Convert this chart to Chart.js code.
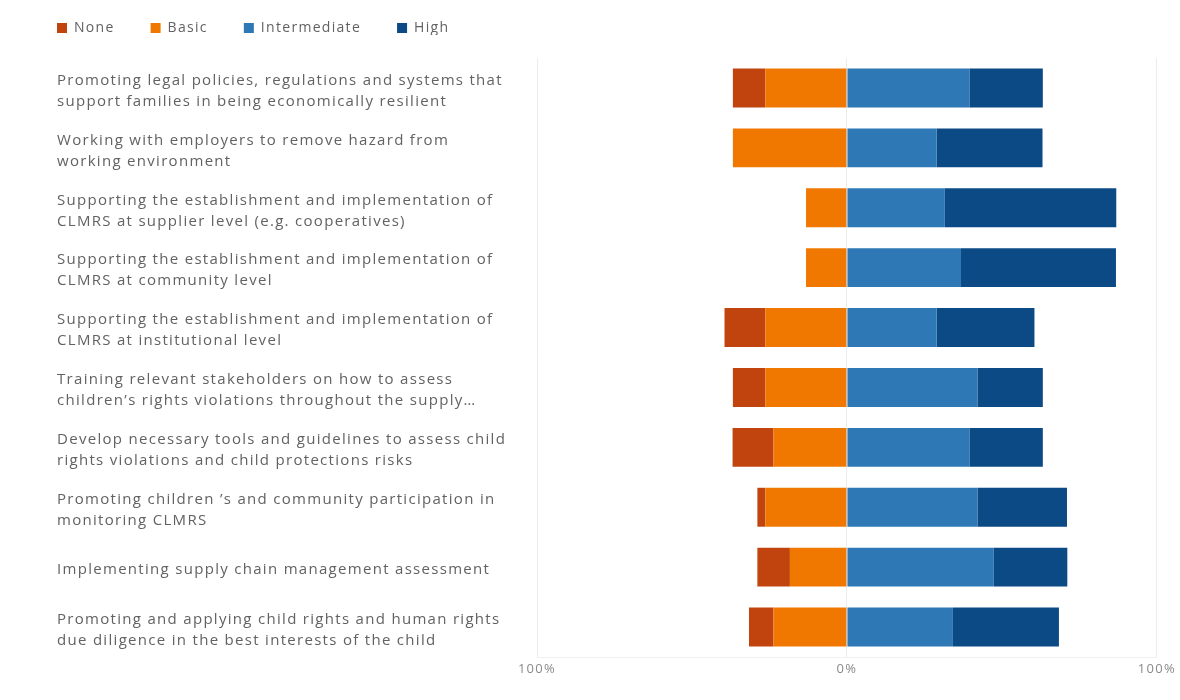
<!DOCTYPE html>
<html>
<head>
<meta charset="utf-8">
<title>Capacity levels by activity</title>
<script src="https://cdn.jsdelivr.net/npm/chart.js@4.4.1/dist/chart.umd.min.js"></script>
<style>
  html, body { margin: 0; padding: 0; background: #ffffff; }
  #wrap { width: 1180px; height: 700px; }
</style>
</head>
<body>
<div id="wrap"><canvas id="chart" width="1180" height="700"></canvas></div>
<script>
// Activities (each entry is wrapped onto the lines shown on the axis)
const categories = [
  ["Promoting legal policies, regulations and systems that", "support families in being economically resilient"],
  ["Working with employers to remove hazard from", "working environment"],
  ["Supporting the establishment and implementation of", "CLMRS at supplier level (e.g. cooperatives)"],
  ["Supporting the establishment and implementation of", "CLMRS at community level"],
  ["Supporting the establishment and implementation of", "CLMRS at institutional level"],
  ["Training relevant stakeholders on how to assess", "children\u2019s rights violations throughout the supply\u2026"],
  ["Develop necessary tools and guidelines to assess child", "rights violations and child protections risks"],
  ["Promoting children \u2019s and community participation in", "monitoring CLMRS"],
  "Implementing supply chain management assessment",
  ["Promoting and applying child rights and human rights", "due diligence in the best interests of the child"]
];

// Share of respondents (%) per capacity level
const noneValues         = [10.5, 0.0, 0.0, 0.0, 13.2, 10.5, 13.2, 2.6, 10.5, 7.9];
const basicValues        = [26.3, 36.8, 13.2, 13.2, 26.3, 26.3, 23.7, 26.3, 18.4, 23.7];
const intermediateValues = [39.5, 28.9, 31.6, 36.8, 28.9, 42.1, 39.5, 42.1, 47.4, 34.2];
const highValues         = [23.7, 34.2, 55.3, 50.0, 31.6, 21.1, 23.7, 28.9, 23.7, 34.2];

// Axis ticks (left side shows the magnitude of the negative half)
const tickValues = [-100, 0, 100];
const legendOrder = ["None", "Basic", "Intermediate", "High"];

const COLORS = {
  None: "#c1440e",
  Basic: "#f07800",
  Intermediate: "#2e78b5",
  High: "#0c4a86"
};

const TEXT = "#626262";
const FONT = "'Open Sans', 'Noto Sans', sans-serif";

// Low levels go to the left of zero; Basic sits next to the axis, None outside it.
const datasets = [
  { label: "Basic", data: basicValues.map(v => -v), backgroundColor: COLORS.Basic },
  { label: "None", data: noneValues.map(v => -v), backgroundColor: COLORS.None },
  { label: "Intermediate", data: intermediateValues, backgroundColor: COLORS.Intermediate },
  { label: "High", data: highValues, backgroundColor: COLORS.High }
];

// Wide, airy lettering for every text on the canvas
const textSpacing = {
  id: "textSpacing",
  beforeUpdate(chart) { chart.ctx.letterSpacing = "1.3px"; },
  beforeDraw(chart) { chart.ctx.letterSpacing = "1.3px"; }
};

// Moves the legend into the top-left corner above the label column
const legendPlacement = {
  id: "legendPlacement",
  afterLayout(chart) {
    const lg = chart.legend;
    if (!lg) return;
    const dx = -36, dy = -23;
    lg.left += dx; lg.right += dx;
    lg.top += dy; lg.bottom += dy;
  }
};

new Chart(document.getElementById("chart"), {
  type: "bar",
  data: { labels: categories, datasets },
  plugins: [textSpacing, legendPlacement],
  options: {
    responsive: false,
    devicePixelRatio: 1,
    animation: false,
    indexAxis: "y",
    layout: { padding: { left: 57, top: 8, right: 23, bottom: 0 } },
    datasets: { bar: { categoryPercentage: 0.65, barPercentage: 1.0, borderWidth: 0 } },
    plugins: {
      tooltip: { enabled: false },
      legend: {
        position: "top",
        align: "start",
        maxHeight: 50,
        labels: {
          boxWidth: 10,
          boxHeight: 10,
          padding: 36,
          color: TEXT,
          font: { family: FONT, size: 14 },
          sort: (a, b) => legendOrder.indexOf(a.text) - legendOrder.indexOf(b.text)
        }
      }
    },
    scales: {
      x: {
        stacked: true,
        min: -100,
        max: 100,
        afterBuildTicks(scale) {
          scale.ticks = tickValues.map(v => ({ value: v }));
        },
        afterFit(scale) { scale.height = 43; },
        grid: { color: "#ececec", lineWidth: 1, drawTicks: false },
        border: { display: true, color: "#f0f0f0" },
        ticks: {
          padding: 4,
          color: "#8a8a8a",
          font: { family: FONT, size: 13 },
          callback: v => Math.abs(v) + "%"
        }
      },
      y: {
        stacked: true,
        afterFit(scale) { scale.width = 480; },
        grid: { display: false },
        border: { display: false },
        ticks: {
          crossAlign: "far",
          labelOffset: 3,
          color: TEXT,
          font: { family: FONT, size: 15, lineHeight: 1.4 }
        }
      }
    }
  }
});
</script>
</body>
</html>
